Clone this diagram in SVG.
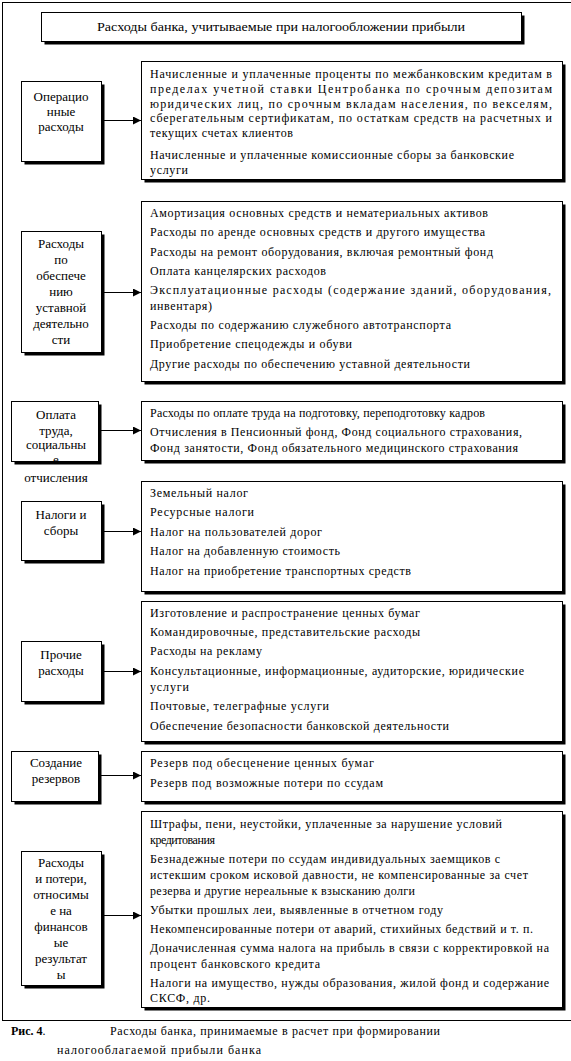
<svg xmlns="http://www.w3.org/2000/svg" width="571" height="1061" viewBox="0 0 571 1061">
<style>
.bx{fill:#fff;stroke:#000;stroke-width:1}
.sh{fill:#000}
.t{font-family:"Liberation Serif","Times New Roman",serif;font-size:12px;fill:#000}
.l{font-family:"Liberation Serif","Times New Roman",serif;font-size:13px;fill:#000;text-anchor:middle}
.c{stroke:#000;stroke-width:1;fill:none}
</style>
<defs>
<marker id="ah" markerWidth="8" markerHeight="8" refX="8" refY="4" orient="auto" markerUnits="userSpaceOnUse">
<path d="M0,0 L8,4 L0,8 Z" fill="#000"/>
</marker>
</defs>
<rect x="0" y="0" width="571" height="1061" fill="#fff"/>
<rect x="2.5" y="2.5" width="575" height="1018" fill="none" stroke="#000" stroke-width="1"/>

<g id="title">
<rect class="sh" x="44.5" y="15.5" width="480" height="29"/>
<rect class="bx" x="41.5" y="12.5" width="480" height="29"/>
<text class="l" x="281" y="31" textLength="368" lengthAdjust="spacingAndGlyphs">Расходы банка, учитываемые при налогообложении прибыли</text>
</g>

<g id="n1">
<rect class="sh" x="24.5" y="84.5" width="80" height="80"/>
<rect class="bx" x="21.5" y="81.5" width="80" height="80"/>
<text class="l" x="61" y="101">Операцио</text>
<text class="l" x="61" y="116">нные</text>
<text class="l" x="61" y="131">расходы</text>
</g>
<g id="d1">
<rect class="sh" x="144.5" y="64.5" width="421" height="118"/>
<rect class="bx" x="141.5" y="61.5" width="421" height="118"/>
<text class="t" x="150" y="78" textLength="402" lengthAdjust="spacing">Начисленные и уплаченные проценты по межбанковским кредитам в</text>
<text class="t" x="150" y="93" textLength="402" lengthAdjust="spacing">пределах учетной ставки Центробанка по срочным депозитам</text>
<text class="t" x="150" y="108" textLength="402" lengthAdjust="spacing">юридических лиц, по срочным вкладам населения, по векселям,</text>
<text class="t" x="150" y="122" textLength="402" lengthAdjust="spacing">сберегательным сертификатам, по остаткам средств на расчетных и</text>
<text class="t" x="150" y="137" textLength="143" lengthAdjust="spacing">текущих счетах клиентов</text>
<text class="t" x="150" y="159" textLength="364" lengthAdjust="spacing">Начисленные и уплаченные комиссионные сборы за банковские</text>
<text class="t" x="150" y="174" textLength="38" lengthAdjust="spacing">услуги</text>
</g>

<g id="n2">
<rect class="sh" x="24.5" y="234.5" width="80" height="121"/>
<rect class="bx" x="21.5" y="231.5" width="80" height="121"/>
<text class="l" x="61" y="248">Расходы</text>
<text class="l" x="61" y="264">по</text>
<text class="l" x="61" y="280">обеспече</text>
<text class="l" x="61" y="296">нию</text>
<text class="l" x="61" y="312">уставной</text>
<text class="l" x="61" y="328">деятельно</text>
<text class="l" x="61" y="344">сти</text>
</g>
<g id="d2">
<rect class="sh" x="144.5" y="204.5" width="421" height="180"/>
<rect class="bx" x="141.5" y="201.5" width="421" height="180"/>
<text class="t" x="150" y="217" textLength="338" lengthAdjust="spacing">Амортизация основных средств и нематериальных  активов</text>
<text class="t" x="150" y="236" textLength="335" lengthAdjust="spacing">Расходы по аренде основных средств и другого имущества</text>
<text class="t" x="150" y="256" textLength="343" lengthAdjust="spacing">Расходы на ремонт оборудования, включая ремонтный фонд</text>
<text class="t" x="150" y="275" textLength="176" lengthAdjust="spacing">Оплата канцелярских расходов</text>
<text class="t" x="150" y="294" textLength="401" lengthAdjust="spacing">Эксплуатационные расходы (содержание зданий, оборудования,</text>
<text class="t" x="150" y="310" textLength="62" lengthAdjust="spacing">инвентаря)</text>
<text class="t" x="150" y="329" textLength="301" lengthAdjust="spacing">Расходы по содержанию служебного автотранспорта</text>
<text class="t" x="150" y="348" textLength="202" lengthAdjust="spacing">Приобретение спецодежды и обуви</text>
<text class="t" x="150" y="368" textLength="320" lengthAdjust="spacing">Другие расходы по обеспечению уставной деятельности</text>
</g>

<g id="n3">
<rect class="sh" x="14.5" y="404.5" width="87" height="60"/>
<rect class="bx" x="11.5" y="401.5" width="87" height="60"/>
<text class="l" x="56" y="419">Оплата</text>
<text class="l" x="56" y="435">труда,</text>
<text class="l" x="56" y="449">социальны</text>
<text class="l" x="56" y="464">е</text>
<text class="l" x="56" y="482">отчисления</text>
</g>
<g id="d3">
<rect class="sh" x="144.5" y="404.5" width="421" height="59"/>
<rect class="bx" x="141.5" y="401.5" width="421" height="59"/>
<text class="t" x="150" y="417" textLength="335" lengthAdjust="spacing">Расходы по оплате труда на подготовку, переподготовку кадров</text>
<text class="t" x="150" y="436" textLength="372" lengthAdjust="spacing">Отчисления в Пенсионный фонд, Фонд социального страхования,</text>
<text class="t" x="150" y="452" textLength="368" lengthAdjust="spacing">Фонд занятости, Фонд обязательного медицинского страхования</text>
</g>

<g id="n4">
<rect class="sh" x="24.5" y="504.5" width="80" height="59"/>
<rect class="bx" x="21.5" y="501.5" width="80" height="59"/>
<text class="l" x="61" y="519">Налоги и</text>
<text class="l" x="61" y="535">сборы</text>
</g>
<g id="d4">
<rect class="sh" x="144.5" y="484.5" width="421" height="110"/>
<rect class="bx" x="141.5" y="481.5" width="421" height="110"/>
<text class="t" x="150" y="497" textLength="98" lengthAdjust="spacing">Земельный налог</text>
<text class="t" x="150" y="516" textLength="104" lengthAdjust="spacing">Ресурсные налоги</text>
<text class="t" x="150" y="536" textLength="172" lengthAdjust="spacing">Налог на пользователей дорог</text>
<text class="t" x="150" y="555" textLength="190" lengthAdjust="spacing">Налог на добавленную стоимость</text>
<text class="t" x="150" y="575" textLength="261" lengthAdjust="spacing">Налог на приобретение транспортных средств</text>
</g>

<g id="n5">
<rect class="sh" x="24.5" y="644.5" width="80" height="60"/>
<rect class="bx" x="21.5" y="641.5" width="80" height="60"/>
<text class="l" x="61" y="659">Прочие</text>
<text class="l" x="61" y="675">расходы</text>
</g>
<g id="d5">
<rect class="sh" x="144.5" y="604.5" width="421" height="140"/>
<rect class="bx" x="141.5" y="601.5" width="421" height="140"/>
<text class="t" x="150" y="617" textLength="270" lengthAdjust="spacing">Изготовление и распространение ценных бумаг</text>
<text class="t" x="150" y="636" textLength="270" lengthAdjust="spacing">Командировочные, представительские расходы</text>
<text class="t" x="150" y="655" textLength="112" lengthAdjust="spacing">Расходы на рекламу</text>
<text class="t" x="150" y="675" textLength="374" lengthAdjust="spacing">Консультационные, информационные, аудиторские, юридические</text>
<text class="t" x="150" y="691" textLength="39" lengthAdjust="spacing">услуги</text>
<text class="t" x="150" y="710" textLength="179" lengthAdjust="spacing">Почтовые, телеграфные услуги</text>
<text class="t" x="150" y="730" textLength="299" lengthAdjust="spacing">Обеспечение безопасности банковской деятельности</text>
</g>

<g id="n6">
<rect class="sh" x="14.5" y="754.5" width="87" height="50"/>
<rect class="bx" x="11.5" y="751.5" width="87" height="50"/>
<text class="l" x="56" y="767">Создание</text>
<text class="l" x="56" y="783">резервов</text>
</g>
<g id="d6">
<rect class="sh" x="144.5" y="754.5" width="421" height="50"/>
<rect class="bx" x="141.5" y="751.5" width="421" height="50"/>
<text class="t" x="150" y="767" textLength="224" lengthAdjust="spacing">Резерв под обесценение ценных бумаг</text>
<text class="t" x="150" y="787" textLength="233" lengthAdjust="spacing">Резерв под возможные потери по ссудам</text>
</g>

<g id="n7">
<rect class="sh" x="24.5" y="854.5" width="80" height="134"/>
<rect class="bx" x="21.5" y="851.5" width="80" height="134"/>
<text class="l" x="61" y="867">Расходы</text>
<text class="l" x="61" y="883">и потери,</text>
<text class="l" x="61" y="899">относимы</text>
<text class="l" x="61" y="915">е на</text>
<text class="l" x="61" y="931">финансов</text>
<text class="l" x="61" y="947">ые</text>
<text class="l" x="61" y="963">результат</text>
<text class="l" x="61" y="979">ы</text>
</g>
<g id="d7">
<rect class="sh" x="144.5" y="814.5" width="421" height="196"/>
<rect class="bx" x="141.5" y="811.5" width="421" height="196"/>
<text class="t" x="150" y="828" textLength="352" lengthAdjust="spacing">Штрафы, пени, неустойки, уплаченные за нарушение условий</text>
<text class="t" x="150" y="844" textLength="65" lengthAdjust="spacing">кредитования</text>
<text class="t" x="150" y="863" textLength="350" lengthAdjust="spacing">Безнадежные потери по ссудам индивидуальных заемщиков с</text>
<text class="t" x="150" y="879" textLength="378" lengthAdjust="spacing">истекшим сроком исковой давности, не компенсированные за счет</text>
<text class="t" x="150" y="895" textLength="265" lengthAdjust="spacing">резерва и другие нереальные к взысканию долги</text>
<text class="t" x="150" y="914" textLength="293" lengthAdjust="spacing">Убытки прошлых леи, выявленные в отчетном году</text>
<text class="t" x="150" y="933" textLength="383" lengthAdjust="spacing">Некомпенсированные потери от аварий, стихийных бедствий и т. п.</text>
<text class="t" x="150" y="952" textLength="399" lengthAdjust="spacing">Доначисленная сумма налога на прибыль в связи с корректировкой на</text>
<text class="t" x="150" y="968" textLength="170" lengthAdjust="spacing">процент банковского кредита</text>
<text class="t" x="150" y="987" textLength="399" lengthAdjust="spacing">Налоги на имущество, нужды образования, жилой фонд и содержание</text>
<text class="t" x="150" y="1002" textLength="60" lengthAdjust="spacing">СКСФ, др.</text>
</g>

<g id="connectors">
<line class="c" x1="102" y1="120.5" x2="141" y2="120.5" marker-end="url(#ah)"/>
<line class="c" x1="102" y1="292.5" x2="141" y2="292.5" marker-end="url(#ah)"/>
<line class="c" x1="99" y1="430.5" x2="141" y2="430.5" marker-end="url(#ah)"/>
<line class="c" x1="102" y1="531.5" x2="141" y2="531.5" marker-end="url(#ah)"/>
<line class="c" x1="102" y1="671.5" x2="141" y2="671.5" marker-end="url(#ah)"/>
<line class="c" x1="99" y1="775.5" x2="141" y2="775.5" marker-end="url(#ah)"/>
<line class="c" x1="102" y1="915.5" x2="141" y2="915.5" marker-end="url(#ah)"/>
</g>

<g id="caption">
<text class="t" x="11" y="1035" font-size="13"><tspan font-weight="bold">Рис. 4</tspan>.</text>
<text class="t" x="110" y="1035" font-size="13" textLength="330" lengthAdjust="spacing">Расходы банка, принимаемые в расчет при формировании</text>
<text class="t" x="57" y="1054" font-size="13" textLength="204" lengthAdjust="spacing">налогооблагаемой прибыли банка</text>
</g>
</svg>
